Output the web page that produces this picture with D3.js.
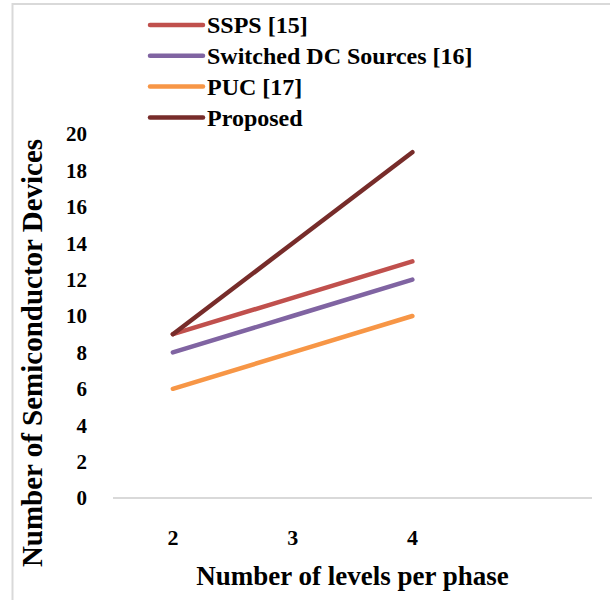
<!DOCTYPE html>
<html>
<head>
<meta charset="utf-8">
<script src="https://cdn.jsdelivr.net/npm/d3@7"></script>
<style>
  body { margin: 0; background: #fff; }
  text { font-family: "Liberation Serif", "Times New Roman", serif; font-weight: bold; fill: #000; }
</style>
</head>
<body>
<svg id="chart"></svg>
<script>
// categories on the x axis (the last slot is empty in the original)
var levels = ["2", "3", "4", ""];
var seriesNames = ["SSPS [15]", "Switched DC Sources [16]", "PUC [17]", "Proposed"];
var sspsValues = [9, 11, 13];
var switchedValues = [8, 10, 12];
var pucValues = [6, 8, 10];
var proposedValues = [9, 14, 19];
var yTicks = [0, 2, 4, 6, 8, 10, 12, 14, 16, 18, 20];
var seriesColors = ["#c0504d", "#8064a2", "#f79646", "#772c2a"];

var width = 610, height = 600;
var svg = d3.select("#chart")
    .attr("width", width)
    .attr("height", height);

// chart area border (only left and top are visible in the picture)
svg.append("rect")
    .attr("x", 12.5)
    .attr("y", 4)
    .attr("width", 620)
    .attr("height", 620)
    .attr("fill", "none")
    .attr("stroke", "#d9d9d9")
    .attr("stroke-width", 2);

var plot = { left: 113, right: 592, top: 134, bottom: 498 };

var x = d3.scaleBand()
    .domain(levels)
    .range([plot.left, plot.right]);

var y = d3.scaleLinear()
    .domain([0, 20])
    .range([plot.bottom, plot.top]);

// horizontal axis line
svg.append("line")
    .attr("x1", plot.left)
    .attr("x2", plot.right)
    .attr("y1", y(0))
    .attr("y2", y(0))
    .style("stroke", "#d9d9d9")
    .style("stroke-width", 2);

// y tick labels
svg.selectAll(".ytick")
    .data(yTicks)
    .enter()
    .append("text")
    .attr("class", "ytick")
    .attr("x", 87)
    .attr("y", d => y(d))
    .attr("dy", "0.35em")
    .attr("font-size", "21px")
    .style("text-anchor", "end")
    .text(d => d);

// x tick labels
svg.selectAll(".xtick")
    .data(levels)
    .enter()
    .append("text")
    .attr("class", "xtick")
    .attr("x", d => x(d) + x.bandwidth() / 2)
    .attr("y", 545)
    .attr("font-size", "22px")
    .style("text-anchor", "middle")
    .text(d => d);

// axis titles
svg.append("text")
    .attr("x", (plot.left + plot.right) / 2)
    .attr("y", 585)
    .attr("font-size", "27px")
    .style("text-anchor", "middle")
    .text("Number of levels per phase");

svg.append("text")
    .attr("transform", "translate(42," + 353 + ") rotate(-90)")
    .attr("font-size", "29px")
    .style("text-anchor", "middle")
    .text("Number of Semiconductor Devices");

// series lines
var allSeries = [sspsValues, switchedValues, pucValues, proposedValues];
var line = d3.line()
    .x((d, i) => x(levels[i]) + x.bandwidth() / 2)
    .y(d => y(d));

svg.selectAll(".series")
    .data(allSeries)
    .enter()
    .append("path")
    .attr("class", "series")
    .attr("d", line)
    .style("fill", "none")
    .style("stroke", (d, i) => seriesColors[i])
    .style("stroke-width", 4.5)
    .style("stroke-linecap", "round")
    .style("stroke-linejoin", "round");

// legend
var legend = svg.selectAll(".legend")
    .data(seriesNames)
    .enter()
    .append("g")
    .attr("class", "legend")
    .attr("transform", (d, i) => "translate(150," + (25 + i * 30.8) + ")");

legend.append("line")
    .attr("x1", 0)
    .attr("x2", 53)
    .style("stroke", (d, i) => seriesColors[i])
    .style("stroke-width", 4.5)
    .style("stroke-linecap", "round");

legend.append("text")
    .attr("x", 57)
    .attr("dy", "0.35em")
    .attr("font-size", "24px")
    .text(d => d);
</script>
</body>
</html>
